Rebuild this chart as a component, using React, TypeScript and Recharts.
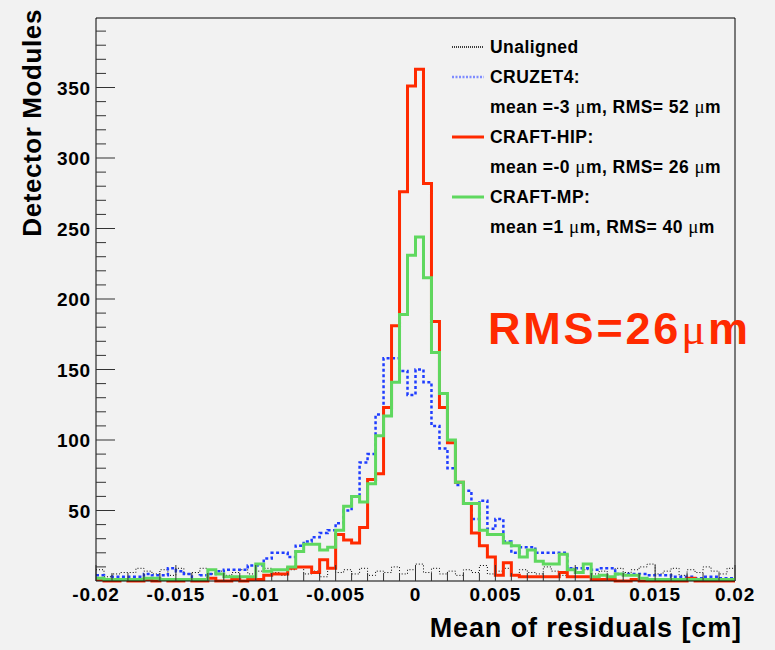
import React from 'react';
import { ComposedChart, Line, XAxis, YAxis, Legend, ReferenceLine, Label } from 'recharts';

// Histogram binning: 80 bins of 0.0005 cm from -0.02 to 0.02
const binLow = -0.02;
const binWidth = 0.0005;

// Module counts per bin
const unaligned = [
  8, 3, 5, 6, 6, 9, 7, 5, 8, 4,
  9, 5, 6, 9, 5, 7, 4, 6, 8, 5,
  7, 9, 6, 4, 8, 10, 5, 7, 3, 9,
  6, 8, 5, 9, 4, 7, 6, 10, 5, 8,
  12, 6, 9, 5, 7, 4, 8, 6, 11, 5,
  7, 9, 4, 8, 6, 5, 10, 7, 4, 9,
  6, 8, 5, 7, 3, 9, 6, 8, 10, 12,
  5, 7, 9, 4, 8, 6, 10, 7, 5, 9,
];
const cruzet4 = [
  4, 1, 3, 3, 3, 3, 5, 4, 4, 9,
  7, 5, 1, 4, 5, 7, 8, 8, 8, 11,
  11, 16, 20, 20, 17, 25, 28, 31, 34, 36,
  41, 50, 60, 84, 90, 118, 158, 158, 149, 132,
  150, 141, 110, 94, 80, 68, 64, 44, 57, 37,
  44, 28, 20, 24, 24, 20, 20, 20, 20, 9,
  9, 9, 8, 9, 9, 5, 5, 5, 5, 4,
  4, 4, 3, 3, 3, 2, 3, 3, 2, 2,
];
const craftHip = [
  1, 0, 0, 1, 0, 0, 1, 0, 1, 0,
  0, 1, 0, 0, 2, 0, 0, 1, 0, 1,
  1, 4, 5, 5, 9, 10, 10, 6, 15, 9,
  33, 29, 27, 38, 72, 76, 123, 181, 276, 351,
  363, 282, 184, 123, 98, 70, 55, 34, 25, 17,
  4, 13, 4, 3, 3, 3, 3, 3, 6, 3,
  3, 3, 1, 1, 1, 0, 0, 1, 0, 0,
  0, 0, 0, 0, 2, 0, 0, 0, 0, 0,
];
const craftMp = [
  2, 1, 1, 1, 1, 1, 2, 2, 1, 1,
  1, 1, 1, 1, 8, 5, 3, 3, 3, 3,
  12, 7, 8, 8, 10, 21, 26, 26, 22, 24,
  36, 53, 60, 56, 69, 103, 117, 141, 189, 231,
  244, 215, 162, 133, 100, 70, 55, 55, 36, 33,
  33, 27, 25, 17, 22, 14, 12, 12, 19, 8,
  6, 12, 3, 4, 3, 5, 4, 4, 2, 1,
  1, 1, 1, 1, 1, 1, 1, 1, 1, 1,
];

const xTickValues = [-0.02, -0.015, -0.01, -0.005, 0, 0.005, 0.01, 0.015, 0.02];
const xTickLabels = ['-0.02', '-0.015', '-0.01', '-0.005', '0', '0.005', '0.01', '0.015', '0.02'];
const yTickValues = [50, 100, 150, 200, 250, 300, 350];
const yTickLabels = ['50', '100', '150', '200', '250', '300', '350'];
const yMax = 399.3;

const COLORS = {
  unaligned: '#000000',
  cruzet4: '#1f3dff',
  cruzet4Legend: '#7f8cff',
  craftHip: '#ff2a00',
  craftMp: '#5fd85f',
};

const legendRows = [
  { key: 'unaligned', text: 'Unaligned' },
  { key: 'cruzet4', text: 'CRUZET4:' },
  { key: '', text: 'mean =-3 μm, RMS= 52 μm' },
  { key: 'craftHip', text: 'CRAFT-HIP:' },
  { key: '', text: 'mean =-0 μm, RMS= 26 μm' },
  { key: 'craftMp', text: 'CRAFT-MP:' },
  { key: '', text: 'mean =1 μm, RMS= 40 μm' },
];

const headline = 'RMS=26μm';

const FONT = '"Liberation Sans", Arial, Helvetica, sans-serif';
const MU_FONT = '"Liberation Serif", "DejaVu Serif", serif';

// One row per bin edge; the last edge repeats the last bin so the step closes at 0.02
const rows = Array.from({ length: unaligned.length + 1 }, (_, k) => {
  const i = Math.min(k, unaligned.length - 1);
  return {
    x: binLow + k * binWidth,
    unaligned: unaligned[i],
    cruzet4: cruzet4[i],
    craftHip: craftHip[i],
    craftMp: craftMp[i],
  };
});

const xMinorTicks: number[] = [];
for (let i = -20; i <= 20; i++) xMinorTicks.push(i / 1000);
const yMinorTicks: number[] = [];
for (let v = 10; v <= 390; v += 10) yMinorTicks.push(v);

// Render a string, setting every µ in a light serif face
const withMu = (s: string, muStyle: React.CSSProperties) =>
  s.split('μ').flatMap((part, i) =>
    i === 0 ? [part] : [<tspan key={i} style={muStyle}>μ</tspan>, part]
  );
const withMuHtml = (s: string, muStyle: React.CSSProperties) =>
  s.split('μ').flatMap((part, i) =>
    i === 0 ? [part] : [<span key={i} style={muStyle}>μ</span>, part]
  );

const XTick = (props: any) => {
  const { x, y, payload } = props;
  const idx = xTickValues.findIndex((t) => Math.abs(t - payload.value) < 1e-9);
  const major = idx >= 0;
  return (
    <g>
      <line x1={x} x2={x} y1={y} y2={y - (major ? 16 : 8)} stroke="#333" strokeWidth={1} />
      {major && (
        <text
          x={x}
          y={y + 20}
          textAnchor="middle"
          fontFamily={FONT}
          fontWeight="bold"
          fontSize={19}
          letterSpacing={0.8}
          fill="#000"
        >
          {xTickLabels[idx]}
        </text>
      )}
    </g>
  );
};

const YTick = (props: any) => {
  const { x, y, payload } = props;
  const idx = yTickValues.findIndex((t) => Math.abs(t - payload.value) < 1e-9);
  const major = idx >= 0;
  return (
    <g>
      <line x1={x} x2={x + (major ? 19 : 10)} y1={y} y2={y} stroke="#333" strokeWidth={1} />
      {major && (
        <text
          x={x - 5}
          y={y + 7}
          textAnchor="end"
          fontFamily={FONT}
          fontWeight="bold"
          fontSize={19}
          letterSpacing={0.8}
          fill="#000"
        >
          {yTickLabels[idx]}
        </text>
      )}
    </g>
  );
};

const LegendSample = ({ k }: { k: string }) => {
  if (k === 'unaligned')
    return <line x1={0} x2={32} y1={5} y2={5} stroke={COLORS.unaligned} strokeWidth={1.5} strokeDasharray="1 1" />;
  if (k === 'cruzet4')
    return <line x1={0} x2={32} y1={5} y2={5} stroke={COLORS.cruzet4Legend} strokeWidth={2.5} strokeDasharray="2 1.5" />;
  if (k === 'craftHip')
    return <line x1={0} x2={32} y1={5} y2={5} stroke={COLORS.craftHip} strokeWidth={3} />;
  if (k === 'craftMp')
    return <line x1={0} x2={32} y1={5} y2={5} stroke={COLORS.craftMp} strokeWidth={3} />;
  return null;
};

const renderLegend = () => (
  <div
    style={{
      fontFamily: FONT,
      fontWeight: 'bold',
      fontSize: 17.5,
      letterSpacing: 0.45,
      color: '#000',
      width: 300,
    }}
  >
    {legendRows.map((r, i) => (
      <div key={i} style={{ height: 30, display: 'flex', alignItems: 'center', whiteSpace: 'nowrap' }}>
        <svg width={38} height={10} style={{ flex: 'none' }}>
          <LegendSample k={r.key} />
        </svg>
        <span>{withMuHtml(r.text, { fontFamily: MU_FONT, fontWeight: 'normal', fontSize: 19 })}</span>
      </div>
    ))}
  </div>
);

export default function App() {
  return (
    <div style={{ position: 'absolute', left: 0, top: 0, width: 775, height: 650, background: '#f2f2f2' }}>
      <ComposedChart
        width={775}
        height={650}
        data={rows}
        margin={{ top: 18, right: 40, bottom: 29, left: 36 }}
      >
        <XAxis
          type="number"
          dataKey="x"
          domain={[-0.02, 0.02]}
          ticks={xMinorTicks}
          interval={0}
          tick={<XTick />}
          tickLine={false}
          tickSize={0}
          tickMargin={0}
          axisLine={{ stroke: '#000', strokeWidth: 1 }}
          height={40}
        >
          <Label
            content={() => (
              <text
                x={742}
                y={637}
                textAnchor="end"
                fontFamily={FONT}
                fontWeight="bold"
                fontSize={27}
                letterSpacing={0.9}
                fill="#000"
              >
                Mean of residuals [cm]
              </text>
            )}
          />
        </XAxis>
        <YAxis
          type="number"
          domain={[0, yMax]}
          ticks={yMinorTicks}
          interval={0}
          tick={<YTick />}
          tickLine={false}
          tickSize={0}
          tickMargin={0}
          axisLine={{ stroke: '#000', strokeWidth: 1 }}
          width={60}
        >
          <Label
            content={() => (
              <text
                x={41}
                y={9}
                transform="rotate(-90, 41, 9)"
                textAnchor="end"
                fontFamily={FONT}
                fontWeight="bold"
                fontSize={26}
                letterSpacing={0.6}
                fill="#000"
              >
                Detector Modules
              </text>
            )}
          />
        </YAxis>
        <ReferenceLine y={yMax} stroke="#000" strokeWidth={1} />
        <ReferenceLine x={0.02} stroke="#000" strokeWidth={1} />
        <Line
          type="stepAfter"
          dataKey="unaligned"
          stroke={COLORS.unaligned}
          strokeWidth={1}
          strokeDasharray="1 2"
          dot={false}
          isAnimationActive={false}
        />
        <Line
          type="stepAfter"
          dataKey="cruzet4"
          stroke={COLORS.cruzet4}
          strokeWidth={2.5}
          strokeDasharray="3 2.5"
          dot={false}
          isAnimationActive={false}
        />
        <Line
          type="stepAfter"
          dataKey="craftHip"
          stroke={COLORS.craftHip}
          strokeWidth={3}
          dot={false}
          isAnimationActive={false}
        />
        <Line
          type="stepAfter"
          dataKey="craftMp"
          stroke={COLORS.craftMp}
          strokeWidth={3}
          dot={false}
          isAnimationActive={false}
        />
        <Legend
          layout="vertical"
          align="center"
          verticalAlign="middle"
          content={renderLegend}
          wrapperStyle={{ left: 452, top: 32, width: 300 }}
        />
      </ComposedChart>
      <svg
        width={775}
        height={650}
        style={{ position: 'absolute', left: 0, top: 0, pointerEvents: 'none' }}
      >
        <text
          x={488}
          y={344}
          fontFamily={FONT}
          fontWeight="bold"
          fontSize={45}
          letterSpacing={2.8}
          fill={COLORS.craftHip}
        >
          {withMu(headline, { fontFamily: MU_FONT, fontWeight: 'normal' })}
        </text>
      </svg>
    </div>
  );
}
